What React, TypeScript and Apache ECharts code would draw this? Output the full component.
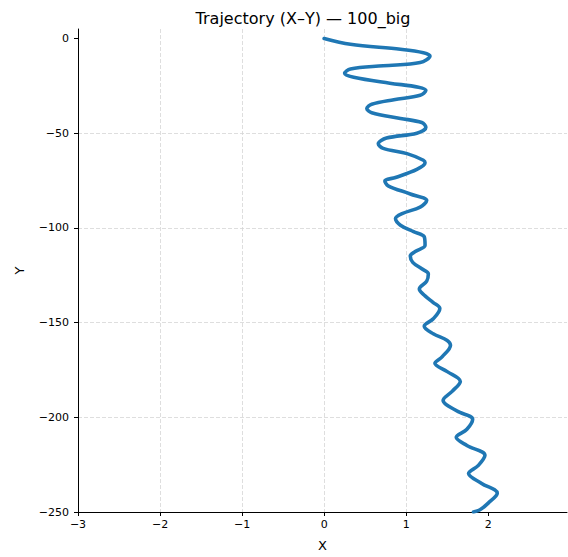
import React, { useEffect, useRef } from "react";
import * as echarts from "echarts";

const TITLE = "Trajectory (X\u2013Y) \u2014 100_big";
const xValues = [
  0, 0.32, 0.93, 1.21, 1.29, 1.17, 0.72, 0.32, 0.25, 0.36, 0.8, 1.15, 1.24, 1.17, 0.85, 0.58, 0.52, 0.58,
  0.93, 1.19, 1.24, 1.13, 0.76, 0.66, 0.72, 1.01, 1.21, 1.23, 1.13, 0.87, 0.74, 0.78, 1.05, 1.25, 1.17,
  0.95, 0.87, 0.93, 1.09, 1.22, 1.23, 1.11, 1.05, 1.08, 1.19, 1.27, 1.25, 1.16, 1.23, 1.33, 1.41, 1.33,
  1.22, 1.33, 1.5, 1.54, 1.44, 1.35, 1.5, 1.66, 1.56, 1.45, 1.62, 1.81, 1.74, 1.61, 1.74, 1.96, 1.88,
  1.76, 1.92, 2.11, 2.0, 1.9, 1.82,
];
const yValues = [
  0, -3.1, -5.7, -7.5, -9.2, -12.7, -14.4, -16.1, -18.4, -20.5, -23.6, -25.7, -27.4, -30.0, -32.3, -34.7,
  -37.0, -39.2, -42.2, -44.4, -46.9, -50.0, -52.6, -55.6, -58.0, -60.8, -64.3, -65.6, -69.1, -73.4, -75.2,
  -77.8, -82.1, -85.6, -89.0, -92.5, -95.1, -98.6, -102.0, -104.7, -109.2, -112.5, -114.8, -118.2, -121.6,
  -124.3, -128.1, -132.3, -135.9, -139.4, -142.5, -148.0, -151.9, -155.9, -159.4, -162.0, -168.0, -171.5,
  -175.9, -181.1, -186.3, -191.0, -196.7, -201.0, -206.3, -210.6, -214.9, -220.1, -225.4, -229.7, -234.9,
  -240.1, -245.3, -248.8, -250.0,
];
const xTicks = [-3, -2, -1, 0, 1, 2];
const yTicks = [-250, -200, -150, -100, -50, 0];

const FONT = "DejaVu Sans";
const fmt = (v: number) => String(v).replace("-", "\u2212");

export default function App() {
  const ref = useRef<HTMLDivElement>(null);
  useEffect(() => {
    document.body.style.margin = "0";
    const chart = echarts.init(ref.current!, null, { renderer: "svg" });
    const points = xValues.map((x, i) => [x, yValues[i]]);
    const gridLine = { show: true, showMaxLine: false, showMinLine: false, lineStyle: { color: "#d6d6d6", type: [4, 2], width: 0.8 } };
    chart.setOption({
      animation: false,
      backgroundColor: "#ffffff",
      title: {
        text: TITLE,
        left: 298,
        top: 5,
        textAlign: "center",
        textStyle: { fontFamily: FONT, fontSize: 16, fontWeight: "normal", color: "#000" },
      },
      grid: { left: 78, right: 1, top: 29, bottom: 38, containLabel: false },
      xAxis: {
        type: "value",
        min: -3,
        max: 2.96,
        interval: 1,
        name: "X",
        nameLocation: "middle",
        nameGap: 27,
        nameTextStyle: { fontFamily: FONT, fontSize: 13, color: "#000" },
        axisLine: { show: true, onZero: false, lineStyle: { color: "#000", width: 1 } },
        axisTick: { show: true, length: 4, inside: false, customValues: xTicks, lineStyle: { color: "#000" } },
        axisLabel: { customValues: xTicks, formatter: fmt, fontFamily: FONT, fontSize: 11, color: "#000", margin: 7 },
        splitLine: gridLine,
      },
      yAxis: {
        type: "value",
        min: -250,
        max: 5,
        interval: 50,
        name: "Y",
        nameLocation: "middle",
        nameGap: 52,
        nameTextStyle: { fontFamily: FONT, fontSize: 13, color: "#000" },
        axisLine: { show: true, onZero: false, lineStyle: { color: "#000", width: 1 } },
        axisTick: { show: true, length: 4, inside: false, customValues: yTicks, lineStyle: { color: "#000" } },
        axisLabel: { customValues: yTicks, formatter: fmt, fontFamily: FONT, fontSize: 11, color: "#000", margin: 9 },
        splitLine: gridLine,
      },
      series: [
        {
          type: "line",
          data: points,
          showSymbol: false,
          smooth: 0.35,
          clip: true,
          lineStyle: { color: "#1f77b4", width: 3.6, cap: "round", join: "round" },
        },
      ],
    });
    return () => chart.dispose();
  }, []);
  return <div ref={ref} style={{ position: "fixed", left: 0, top: 0, width: 568, height: 557 }} />;
}
